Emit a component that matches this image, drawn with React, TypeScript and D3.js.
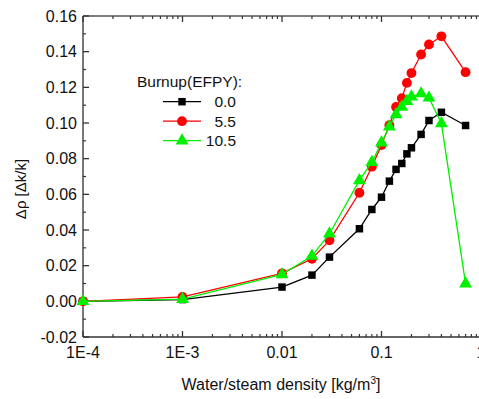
import React from "react";
import * as d3 from "d3";

const densities = [1e-4, 1e-3, 0.01, 0.02, 0.03, 0.06, 0.08, 0.1, 0.12, 0.14, 0.16, 0.18, 0.2, 0.25, 0.3, 0.4, 0.7];
const burnup00 = [0, 0.001, 0.008, 0.0147, 0.0248, 0.0407, 0.0515, 0.0584, 0.0674, 0.074, 0.0773, 0.0827, 0.0861, 0.0936, 0.1014, 0.106, 0.0986];
const burnup55 = [0, 0.0025, 0.0157, 0.0239, 0.0342, 0.0609, 0.0755, 0.0876, 0.0988, 0.109, 0.1139, 0.1225, 0.128, 0.1384, 0.144, 0.1486, 0.1285];
const burnup105 = [0, 0.0012, 0.0151, 0.0254, 0.0379, 0.0678, 0.078, 0.0889, 0.0979, 0.1048, 0.109, 0.1122, 0.1147, 0.1165, 0.1141, 0.0997, 0.0099];

const xTickValues = [1e-4, 1e-3, 0.01, 0.1, 1];
const xTickLabels = ["1E-4", "1E-3", "0.01", "0.1", "1"];
const yTickValues = [-0.02, 0, 0.02, 0.04, 0.06, 0.08, 0.1, 0.12, 0.14, 0.16];
const legendTitle = "Burnup(EFPY):";

const series = [
  { label: "0.0", values: burnup00, color: "#000000", symbol: d3.symbolSquare, size: 56 },
  { label: "5.5", values: burnup55, color: "#ff0000", symbol: d3.symbolCircle, size: 76 },
  { label: "10.5", values: burnup105, color: "#00f000", symbol: d3.symbolTriangle, size: 72 },
];

const W = 479;
const H = 399;
const left = 83, right = 481, top = 16, bottom = 337;
const font = "Arial, 'Liberation Sans', sans-serif";

export default function App() {
  const x = d3.scaleLog().domain([1e-4, 1]).range([left, right]);
  const y = d3.scaleLinear().domain([-0.02, 0.16]).range([bottom, top]);

  const minorX: number[] = [];
  for (let e = -4; e < 0; e++) {
    for (let m = 2; m <= 9; m++) minorX.push(m * Math.pow(10, e));
  }
  const minorY = d3.range(-0.01, 0.16, 0.02);

  const line = d3
    .line<number>()
    .x((_, i) => x(densities[i]))
    .y((v) => y(v));

  const fmtY = (v: number) => d3.format(".2f")(v).replace("\u2212", "-");
  const axisColor = "#333";

  return (
    <svg
      width={W}
      height={H}
      style={{ position: "absolute", left: 0, top: 0, background: "#fff" }}
      fontFamily={font}
    >
      <rect x={0} y={0} width={W} height={H} fill="#fff" />
      {/* frame */}
      <line x1={left} x2={right} y1={bottom} y2={bottom} stroke={axisColor} strokeWidth={1.6} />
      <line x1={left} x2={right} y1={top} y2={top} stroke="#555" strokeWidth={1.6} />
      <line x1={left} x2={left} y1={top} y2={bottom} stroke="#555" strokeWidth={1.6} />
      <line x1={right} x2={right} y1={top} y2={bottom} stroke="#555" strokeWidth={1.6} />

      {/* x ticks: bottom and top, pointing inward */}
      {xTickValues.map((v) => (
        <g key={"xt" + v}>
          <line x1={x(v)} x2={x(v)} y1={bottom} y2={bottom - 6} stroke={axisColor} strokeWidth={1.3} />
          <line x1={x(v)} x2={x(v)} y1={top} y2={top + 6} stroke={axisColor} strokeWidth={1.3} />
        </g>
      ))}
      {minorX.map((v) => (
        <g key={"xm" + v}>
          <line x1={x(v)} x2={x(v)} y1={bottom} y2={bottom - 3} stroke={axisColor} strokeWidth={1.2} />
          <line x1={x(v)} x2={x(v)} y1={top} y2={top + 3} stroke={axisColor} strokeWidth={1.2} />
        </g>
      ))}
      {xTickValues.map((v, i) => (
        <text key={"xl" + v} x={x(v)} y={358} textAnchor="middle" fontSize={16} fill="#111">
          {xTickLabels[i]}
        </text>
      ))}

      {/* y ticks, pointing inward */}
      {yTickValues.map((v) => (
        <g key={"yt" + v}>
          <line x1={left} x2={left + 6} y1={y(v)} y2={y(v)} stroke={axisColor} strokeWidth={1.3} />
          <text x={77} y={y(v)} dy="0.36em" textAnchor="end" fontSize={16} fill="#111">
            {fmtY(v)}
          </text>
        </g>
      ))}
      {minorY.map((v) => (
        <line key={"ym" + v} x1={left} x2={left + 3} y1={y(v)} y2={y(v)} stroke={axisColor} strokeWidth={1.2} />
      ))}

      {/* axis titles */}
      <text x={281} y={390} textAnchor="middle" fontSize={16} fill="#111">
        Water/steam density [kg/m<tspan dy={-6} fontSize={10}>3</tspan>
        <tspan dy={6}>]</tspan>
      </text>
      <text
        transform={`translate(26,189) rotate(-90)`}
        textAnchor="middle"
        fontSize={15}
        fill="#111"
      >
        Δρ [Δk/k]
      </text>

      {/* series */}
      {series.map((s) => (
        <g key={s.label}>
          <path d={line(s.values) || ""} fill="none" stroke={s.color} strokeWidth={1.3} />
          {s.values.map((v, i) => (
            <path
              key={i}
              d={d3.symbol().type(s.symbol).size(s.size)() || ""}
              transform={`translate(${x(densities[i])},${y(v)})`}
              fill={s.color}
            />
          ))}
        </g>
      ))}

      {/* legend */}
      <text x={137} y={87} fontSize={15.5} fill="#111">
        {legendTitle}
      </text>
      {series.map((s, i) => {
        const ly = 101.7 + i * 19.5;
        return (
          <g key={"lg" + s.label}>
            <line x1={163} x2={201} y1={ly} y2={ly} stroke={s.color} strokeWidth={1.3} />
            <path
              d={d3.symbol().type(s.symbol).size(s.size)() || ""}
              transform={`translate(182,${ly})`}
              fill={s.color}
            />
            <text x={236} y={ly} dy="0.36em" textAnchor="end" fontSize={15.5} fill="#111">
              {s.label}
            </text>
          </g>
        );
      })}
    </svg>
  );
}
